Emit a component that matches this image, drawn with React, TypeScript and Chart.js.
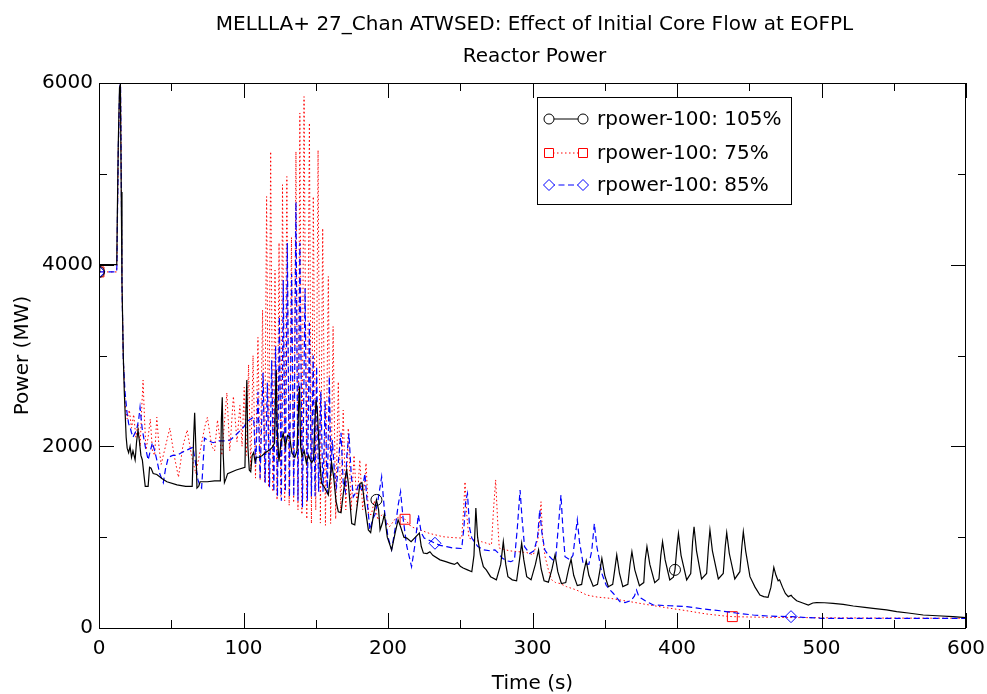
import { useEffect, useRef } from 'react';
import { Chart, registerables } from 'chart.js';

Chart.register(...registerables);

const FONT = '"DejaVu Sans", "Liberation Sans", sans-serif';

const chartTitle = ['MELLLA+ 27_Chan ATWSED: Effect of Initial Core Flow at EOFPL', 'Reactor Power'];
const xAxisTitle = 'Time (s)';
const yAxisTitle = 'Power (MW)';
const seriesLabels = ['rpower-100: 105%', 'rpower-100: 75%', 'rpower-100: 85%'];

// ---- 105% (black, solid, circles)
const time105 = [0, 0.5, 12.3, 12.6, 13.3, 14.2, 14.8, 15.4, 15.9, 16.8, 17.5, 18, 18.8, 19.5, 20.5, 21.5, 22.5, 23.5, 25, 26, 27, 28, 29, 30, 31, 32, 34, 35, 36, 37.5, 40, 44, 47, 54, 60, 64.5, 65.5, 66.2, 67, 67.8, 69, 70, 75, 80, 84, 84.7, 85.3, 86, 86.8, 88, 89, 95, 101, 101.7, 102.3, 103, 104, 105, 106, 107, 108, 109, 111, 113, 115, 118, 120, 121.5, 122.3, 122.7, 123.3, 124.5, 126, 127.5, 129, 130.5, 132, 133.5, 135.5, 137, 138.3, 138.8, 139.5, 140.5, 142, 143.5, 145, 147, 148.5, 149.5, 150.2, 151.2, 152.5, 154, 156, 158.7, 160, 161, 162.5, 164, 165.6, 167.5, 170.2, 171.4, 172.5, 174.9, 177, 180.6, 182, 184, 186.4, 188, 190, 192, 193.5, 194.5, 196, 197.5, 199.5, 202.5, 205, 207, 209, 211, 213, 216, 219, 221.7, 223, 224.5, 227, 229, 231, 236, 240, 243, 246, 248, 250, 252, 255, 258, 259.5, 260.8, 262, 264, 266, 268, 271, 275, 278, 279.8, 281.5, 283, 286, 289, 291, 292.5, 294, 296, 299, 302, 304.2, 306, 308, 311, 313.5, 315.6, 317.5, 320, 323, 325, 326.7, 328.5, 331, 334, 335.5, 337.2, 339, 342, 345, 346.5, 348, 350, 352.5, 355.5, 357, 358.3, 360.2, 362.5, 366, 367.5, 368.8, 370.8, 374, 377, 378, 379.2, 381.2, 384.6, 387.5, 388.8, 390, 391.8, 395, 397.5, 398.6, 400, 401, 402.8, 406.7, 409.5, 410.8, 411.8, 413.5, 417, 420.5, 421.8, 422.8, 424.5, 428.6, 432, 433.4, 434.4, 436.2, 440, 443.5, 444.9, 445.9, 447.5, 450.5, 454, 457.4, 460, 463, 465, 467, 468.5, 470, 471, 473, 475, 477, 479, 480, 482.8, 487, 490.9, 494, 496.6, 502, 508, 515, 522, 530, 535.7, 545, 552, 560, 570.4, 580, 591, 600];
const power105 = [3920, 4000, 4000, 4450, 5300, 5950, 5980, 4800, 3800, 3000, 2600, 2400, 2100, 1980, 1930, 2000, 1880, 1950, 1850, 2050, 2180, 2050, 1900, 1850, 1700, 1560, 1560, 1770, 1760, 1700, 1690, 1640, 1610, 1575, 1560, 1560, 2100, 2370, 2000, 1540, 1560, 1610, 1610, 1620, 1620, 2300, 2540, 1900, 1600, 1650, 1700, 1740, 1770, 2400, 2730, 2000, 1740, 1720, 1900, 1930, 1830, 1880, 1880, 1900, 1930, 1960, 1990, 2035, 2650, 2840, 2200, 1830, 2050, 2140, 2000, 2120, 2100, 1925, 1880, 1950, 2500, 2660, 2000, 1890, 1950, 1815, 1900, 1820, 1850, 2300, 2510, 2365, 1900, 1595, 1550, 1465, 1650, 1815, 1650, 1400, 1280, 1270, 1630, 1740, 1600, 1150, 1135, 1590, 1600, 1350, 1080, 1050, 1250, 1410, 1300, 1080, 1150, 1250, 1000, 860, 1050, 1190, 1100, 1000, 990, 950, 1000, 1045, 900, 825, 820, 840, 800, 750, 730, 715, 700, 720, 680, 660, 640, 620, 800, 1320, 1000, 800, 675, 640, 565, 530, 700, 950, 700, 565, 530, 520, 750, 935, 750, 565, 530, 700, 860, 650, 520, 505, 650, 805, 620, 490, 500, 650, 757, 580, 467, 480, 620, 740, 580, 460, 480, 620, 767, 580, 455, 480, 650, 805, 600, 455, 480, 700, 840, 640, 465, 500, 750, 895, 700, 500, 540, 800, 950, 750, 530, 560, 640, 900, 1040, 800, 530, 600, 950, 1115, 850, 540, 600, 900, 1080, 850, 540, 600, 900, 1050, 820, 540, 620, 900, 1060, 850, 565, 450, 363, 345, 338, 450, 668, 580, 520, 530, 450, 380, 345, 360, 340, 300, 275, 253, 275, 280, 278, 272, 260, 242, 228, 217, 200, 180, 165, 143, 135, 125, 115];
const markers105 = [0, 192, 398.6];

// ---- 75% (red, dotted, squares)
const time75 = [0, 12.2, 12.4, 12.7, 13.4, 14.3, 14.9, 15.5, 15.9, 16.8, 18, 19.5, 21, 22.5, 24, 25.5, 27, 28.5, 29.5, 30.5, 31.5, 32.5, 34, 35.5, 37, 38.5, 40, 41.5, 43, 46, 49, 52, 55, 58, 61, 64, 67, 70, 73, 75, 78, 80, 82, 85, 88.5, 90.5, 93, 95.5, 97.5, 99, 100.5, 102, 103.5, 105, 106.6, 108.3, 110, 111.5, 113.2, 114.6, 116, 117.4, 118.8, 120.3, 121.8, 123.2, 124.6, 125.8, 127, 128.5, 130, 131.6, 133.2, 134.7, 136.3, 137.7, 139, 140.4, 141.9, 143.8, 145.6, 147, 148.3, 150, 151.6, 153.2, 154.8, 156.7, 158.7, 160.3, 162, 163.8, 165.6, 167.3, 169, 170.8, 172.5, 174.5, 176.5, 178.5, 180.5, 182.5, 184.8, 186.5, 188.5, 190.5, 193, 196, 198.5, 201, 205, 208, 211.8, 216, 222, 229, 238, 245, 251, 252.3, 253.3, 254.5, 256, 260, 264.7, 269, 271.6, 273, 274.5, 275.8, 277, 284, 290, 296, 300.6, 304, 305.9, 307, 308.7, 311, 313.3, 316, 319, 323.6, 330.5, 337.5, 345, 353.6, 360, 367.5, 381, 394, 406.7, 420, 434, 438.3, 460, 480, 530, 600];
const power75 = [3920, 3920, 4000, 4450, 5300, 5950, 5990, 4800, 3800, 3000, 2470, 2300, 2400, 2200, 2350, 2100, 2250, 2000, 2400, 2730, 2300, 1960, 2100, 2300, 1950, 1900, 2320, 2000, 1800, 2000, 2200, 1900, 1660, 2000, 2180, 1900, 1700, 1950, 2200, 2320, 2000, 1950, 2290, 1900, 2590, 1950, 2550, 2050, 2450, 2000, 2650, 1900, 2900, 1750, 3000, 1650, 3200, 1630, 3500, 1600, 4750, 1550, 5245, 1500, 3940, 1410, 4240, 1450, 4880, 1400, 4970, 1350, 4300, 1380, 5245, 1300, 5670, 1250, 5850, 1200, 5560, 1150, 4750, 1300, 5260, 1155, 4400, 1130, 3870, 1150, 3320, 1200, 2710, 1270, 2400, 1300, 2200, 1300, 1900, 1350, 1850, 1300, 1815, 1250, 1250, 1400, 1190, 1250, 1180, 1115, 1200, 1225, 1197, 1115, 1080, 1040, 1005, 995, 990, 1300, 1610, 1250, 990, 965, 950, 930, 915, 1300, 1630, 1200, 880, 850, 840, 830, 805, 1000, 1390, 1000, 785, 640, 530, 500, 490, 455, 418, 363, 340, 327, 310, 290, 253, 220, 190, 155, 130, 125, 118, 115, 110, 107];
const markers75 = [0, 211.8, 438.3];

// ---- 85% (blue, dashed, diamonds)
const time85 = [0, 12.2, 12.4, 12.7, 13.4, 14.3, 14.9, 15.5, 15.9, 16.8, 18, 19.4, 20.5, 21.5, 22.5, 23.5, 25, 26, 27.5, 28.4, 29.2, 30, 32, 34, 35.5, 37, 38.5, 40, 42, 44.5, 46, 48, 51, 54, 57, 61, 65, 66.5, 68.5, 70, 71, 72, 73, 76, 79, 83, 87, 91, 95, 100, 103, 105, 107, 108.5, 110, 111.5, 113.5, 115, 116.5, 118, 119.5, 121, 122.2, 123.5, 124.8, 126.2, 127.5, 129, 130.3, 131.8, 133.3, 134.8, 136.3, 137.7, 139, 140.8, 142.6, 144.2, 145.6, 147, 148.2, 149.5, 150.6, 152, 153.5, 155, 156.5, 158, 159.4, 160.5, 161.5, 163, 164.4, 166, 167.5, 169, 170.5, 171.5, 173, 174.5, 176, 178, 180, 182, 184, 185.5, 187.5, 189.5, 191, 193, 195.6, 197.5, 200, 202.5, 205, 207, 208.7, 210.5, 213, 216.3, 218.5, 221, 223, 225, 228, 232.5, 236, 240.6, 245, 251, 252.5, 253.8, 255, 256.5, 258, 262, 266, 270.6, 274, 276, 279, 282, 285, 287.5, 289.5, 291.4, 292.8, 294.5, 298, 301, 303.5, 305, 306.5, 308.5, 311, 314, 316, 317.8, 319.7, 321, 322.5, 326, 328, 329.5, 331, 332.5, 335, 339, 341, 342.8, 344.5, 348, 351, 353, 356, 360.5, 364, 368, 370.5, 372, 373.5, 375, 378, 383.6, 395, 406.7, 418, 429.8, 441, 452.8, 465, 478.9, 490, 500, 600];
const power85 = [3920, 3920, 4000, 4450, 5300, 5950, 5990, 4800, 3800, 2950, 2600, 2370, 2250, 2210, 2150, 2100, 2150, 2180, 2300, 2430, 2300, 2180, 2000, 1850, 1950, 2040, 1950, 1850, 1700, 1600, 1750, 1880, 1900, 1900, 1930, 1960, 1990, 1850, 1630, 1560, 1540, 1800, 2090, 2060, 2040, 2060, 2060, 2070, 2130, 2210, 2280, 2300, 2320, 1800, 2600, 1650, 2810, 1600, 2700, 1550, 2950, 1500, 3100, 1450, 3430, 1400, 3830, 1500, 4240, 1440, 3900, 1450, 4690, 1400, 4240, 1330, 3740, 1400, 3360, 1450, 3000, 1450, 2880, 1500, 2600, 1500, 2500, 1480, 2770, 1700, 2070, 1700, 1555, 1900, 2150, 1600, 1500, 1900, 2140, 1700, 1445, 1500, 1600, 1500, 1700, 1400, 1080, 1200, 1250, 1400, 1665, 1300, 1000, 860, 1100, 1350, 1500, 1200, 900, 675, 900, 1245, 1050, 990, 970, 933, 910, 895, 880, 875, 1100, 1400, 1480, 1100, 990, 900, 860, 850, 860, 830, 770, 740, 730, 750, 1100, 1520, 1200, 895, 820, 850, 1000, 1300, 1050, 860, 800, 750, 760, 1100, 1465, 1100, 785, 750, 800, 1000, 1190, 950, 712, 700, 850, 1150, 900, 600, 470, 430, 380, 290, 280, 300, 350, 418, 350, 330, 300, 253, 245, 235, 210, 190, 165, 143, 130, 125, 115, 107, 105];
const markers85 = [0, 232.5, 478.9];

const xMin = 0, xMax = 600, xMajorStep = 100, xMinorStep = 50;
const yMin = 0, yMax = 6000, yMajorStep = 2000, yMinorStep = 1000;

const toPoints = (t: number[], p: number[]) => t.map((x, i) => ({ x, y: p[i] }));
const markerRadius = (t: number[], marks: number[], r: number) => (ctx: any) =>
  ctx.dataIndex !== undefined && marks.includes(t[ctx.dataIndex]) ? r : 0;

const framePlugin = {
  id: 'frameTicks',
  afterDraw(chart: any) {
    const { ctx, chartArea: a, scales } = chart;
    const xs = scales.x, ys = scales.y;
    ctx.save();
    ctx.strokeStyle = '#000';
    ctx.lineWidth = 1;
    ctx.setLineDash([]);
    ctx.strokeRect(a.left + 0.5, a.top + 0.5, a.right - a.left - 1, a.bottom - a.top);
    ctx.beginPath();
    for (let v = xMin; v <= xMax; v += xMinorStep) {
      const len = v % xMajorStep === 0 ? 15 : 8;
      const px = Math.round(xs.getPixelForValue(v)) + 0.5;
      ctx.moveTo(px, a.bottom); ctx.lineTo(px, a.bottom - len);
      ctx.moveTo(px, a.top); ctx.lineTo(px, a.top + len);
    }
    for (let v = yMin; v <= yMax; v += yMinorStep) {
      const len = v % yMajorStep === 0 ? 15 : 8;
      const py = Math.round(ys.getPixelForValue(v)) + 0.5;
      ctx.moveTo(a.left, py); ctx.lineTo(a.left + len, py);
      ctx.moveTo(a.right, py); ctx.lineTo(a.right - len, py);
    }
    ctx.stroke();

    // title
    ctx.fillStyle = '#000';
    ctx.textAlign = 'center';
    ctx.textBaseline = 'alphabetic';
    ctx.font = `20px ${FONT}`;
    const cx = (a.left + a.right) / 2 + 2;
    ctx.fillText(chartTitle[0], cx, 30);
    ctx.fillText(chartTitle[1], cx, 62);

    // legend
    const bx = 537, by = 97, bw = 254, bh = 107;
    ctx.fillStyle = '#fff';
    ctx.fillRect(bx, by, bw, bh);
    ctx.strokeStyle = '#000';
    ctx.strokeRect(bx + 0.5, by + 0.5, bw, bh);
    const rows = [119, 153, 185];
    chart.data.datasets.forEach((ds: any, i: number) => {
      const y = rows[i];
      const x1 = 549, x2 = 583;
      ctx.strokeStyle = ds.borderColor;
      ctx.lineWidth = 1;
      ctx.setLineDash(ds.borderDash || []);
      ctx.beginPath(); ctx.moveTo(x1, y); ctx.lineTo(x2, y); ctx.stroke();
      ctx.setLineDash([]);
      [x1, x2].forEach((x) => {
        ctx.beginPath();
        if (ds.pointStyle === 'circle') ctx.arc(x, y, 5, 0, Math.PI * 2);
        else if (ds.pointStyle === 'rect') ctx.rect(x - 4.5, y - 4.5, 9, 9);
        else { ctx.moveTo(x - 5.5, y); ctx.lineTo(x, y - 5.5); ctx.lineTo(x + 5.5, y); ctx.lineTo(x, y + 5.5); ctx.closePath(); }
        ctx.fillStyle = '#fff';
        ctx.fill();
        ctx.stroke();
      });
      ctx.fillStyle = '#000';
      ctx.textAlign = 'left';
      ctx.textBaseline = 'middle';
      ctx.font = `20px ${FONT}`;
      ctx.fillText(ds.label, 597, y + 1);
    });
    ctx.restore();
  },
};

export default function App() {
  const ref = useRef<HTMLCanvasElement | null>(null);
  useEffect(() => {
    document.body.style.margin = '0';
    if (!ref.current) return;
    const chart = new Chart(ref.current, {
      type: 'line',
      data: {
        datasets: [
          {
            label: seriesLabels[0],
            data: toPoints(time105, power105),
            borderColor: '#000000',
            borderWidth: 1.2,
            pointStyle: 'circle',
            pointRadius: markerRadius(time105, markers105, 5.5),
            pointBorderColor: '#000000',
            pointBackgroundColor: 'rgba(0,0,0,0)',
            pointBorderWidth: 1,
            order: 0,
          },
          {
            label: seriesLabels[1],
            data: toPoints(time75, power75),
            borderColor: '#ff0000',
            borderWidth: 1,
            borderDash: [1.5, 2.5],
            pointStyle: 'rect',
            pointRadius: markerRadius(time75, markers75, 7),
            pointBorderColor: '#ff0000',
            pointBackgroundColor: 'rgba(0,0,0,0)',
            pointBorderWidth: 1,
            order: 2,
          },
          {
            label: seriesLabels[2],
            data: toPoints(time85, power85),
            borderColor: '#0000ff',
            borderWidth: 1.2,
            borderDash: [6, 3.5],
            pointStyle: 'rectRot',
            pointRadius: markerRadius(time85, markers85, 6),
            pointBorderColor: '#0000ff',
            pointBackgroundColor: 'rgba(0,0,0,0)',
            pointBorderWidth: 1,
            order: 1,
          },
        ],
      },
      options: {
        responsive: false,
        devicePixelRatio: 1,
        animation: false,
        events: [],
        layout: { padding: { left: 0, right: 21, top: 83, bottom: 0 } },
        elements: { line: { tension: 0 }, point: { hoverRadius: 0 } },
        plugins: { legend: { display: false }, tooltip: { enabled: false }, title: { display: false } },
        scales: {
          x: {
            type: 'linear',
            min: xMin,
            max: xMax,
            ticks: { stepSize: xMajorStep, color: '#000', font: { family: FONT, size: 20 }, padding: 9, maxRotation: 0, autoSkip: false, callback: (v: any) => String(v) },
            grid: { display: false, drawTicks: false },
            border: { display: false },
            title: { display: true, text: xAxisTitle, color: '#000', font: { family: FONT, size: 20 }, padding: { top: 0, bottom: -2 } },
            afterFit: (s: any) => { s.height = 66; s.paddingLeft = 0; s.paddingRight = 0; },
          },
          y: {
            type: 'linear',
            min: yMin,
            max: yMax,
            ticks: { stepSize: yMajorStep, color: '#000', font: { family: FONT, size: 20 }, padding: 6, callback: (v: any) => String(v) },
            grid: { display: false, drawTicks: false },
            border: { display: false },
            title: { display: true, text: yAxisTitle, color: '#000', font: { family: FONT, size: 20 }, padding: { top: 11, bottom: 0 } },
            afterFit: (s: any) => { s.width = 99; s.paddingTop = 0; s.paddingBottom = 0; },
          },
        },
      },
      plugins: [framePlugin],
    } as any);
    return () => chart.destroy();
  }, []);
  return (
    <div style={{ width: 987, height: 694 }}>
      <canvas ref={ref} width={987} height={694} style={{ display: 'block' }} />
    </div>
  );
}
